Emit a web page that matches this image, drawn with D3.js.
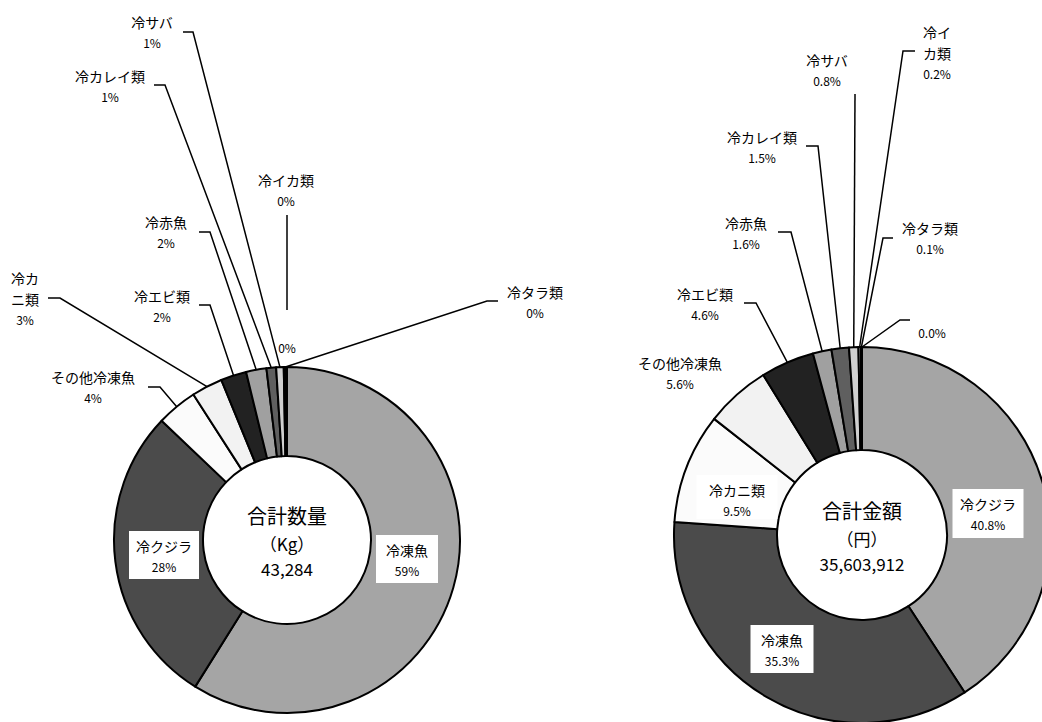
<!DOCTYPE html>
<html>
<head>
<meta charset="utf-8">
<script src="https://cdn.jsdelivr.net/npm/d3@7"></script>
<style>
  body { margin: 0; background: #fff; }
  text { font-family: "Noto Sans CJK JP", "Noto Sans", sans-serif; fill: #000; }
  .lbl-name { font-size: 14px; }
  .lbl-pct { font-size: 12px; }
  .ctr-title { font-size: 20px; }
  .ctr-sub { font-size: 17px; }
</style>
</head>
<body>
<svg id="chart"></svg>
<script>
'use strict';

// ---- data ----
const categories_qty = ['冷凍魚', '冷クジラ', 'その他冷凍魚', '冷カニ類', '冷エビ類', '冷赤魚', '冷カレイ類', '冷サバ', '冷イカ類', '冷タラ類', ''];
const share_qty = [58.9, 28.2, 3.8, 2.9, 2.4, 1.9, 0.9, 0.7, 0.1, 0.1, 0.1];
const total_qty = 43284;

const categories_amt = ['冷クジラ', '冷凍魚', '冷カニ類', 'その他冷凍魚', '冷エビ類', '冷赤魚', '冷カレイ類', '冷サバ', '冷イカ類', '冷タラ類', ''];
const share_amt = [40.8, 35.3, 9.5, 5.6, 4.6, 1.6, 1.5, 0.8, 0.2, 0.1, 0.0];
const total_amt = 35603912;

// slot colours (by slice order)
const palette = ['#a5a5a5', '#4b4b4b', '#fbfbfb', '#f2f2f2', '#222222', '#a0a0a0',
                 '#5f5f5f', '#d0d0d0', '#ffffff', '#7f7f7f', '#000000'];

// label placement (hand placed, like the original sheet)
const layout_qty = [
    {type: 'box', x: 407, y: 550, bw: 62, bh: 48},
    {type: 'box', x: 164, y: 546, bw: 70, bh: 48},
    {type: 'elbow', x: 93, y: 377, ex: [148, 160], ey: 387},
    {type: 'elbow', x: 25, y: 278, wrap: 2, ex: [48, 60], ey: 298},
    {type: 'elbow', x: 162, y: 296, ex: [199, 210], ey: 305},
    {type: 'elbow', x: 166, y: 222, ex: [199, 210], ey: 232},
    {type: 'elbow', x: 110, y: 76, ex: [154, 165], ey: 85},
    {type: 'elbow', x: 152, y: 22, ex: [183, 193], ey: 32},
    {type: 'stub', x: 286, y: 180, sx: 287, sy: [215, 310]},
    {type: 'elbow', x: 535, y: 292, ex: [498, 487], ey: 301},
    {type: 'none', x: 287, y: 347}
];
const layout_amt = [
    {type: 'box', x: 988, y: 504, bw: 71, bh: 49},
    {type: 'box', x: 782, y: 640, bw: 63, bh: 48},
    {type: 'box', x: 737, y: 490, bw: 81, bh: 44},
    {type: 'none', x: 680, y: 363},
    {type: 'elbow', x: 705, y: 294, ex: [744, 756], ey: 303},
    {type: 'elbow', x: 746, y: 223, ex: [778, 791], ey: 232},
    {type: 'elbow', x: 762, y: 137, ex: [806, 818], ey: 146},
    {type: 'line', x: 827, y: 60, lx: 855, ly: 94},
    {type: 'elbow', x: 937, y: 32, wrap: 2, ex: [915, 903], ey: 51},
    {type: 'elbow', x: 930, y: 228, ex: [893, 883], ey: 238},
    {type: 'elbow', x: 932, y: 332, ex: [910, 900], ey: 320}
];

const svg = d3.select('#chart').attr('width', 1042).attr('height', 722);

function drawDonut(cfg) {
    const pie = d3.pie().sort(null).value(d => d.value);
    const slices = pie(cfg.names.map((n, i) => ({name: n, value: cfg.values[i]})));
    const arc = d3.arc().innerRadius(cfg.r0).outerRadius(cfg.r1);
    const edge = d3.arc().innerRadius(cfg.r1).outerRadius(cfg.r1);
    const fmt = d3.format(cfg.pct_fmt);

    const g = svg.append('g')
        .attr('transform', 'translate(' + cfg.cx + ',' + cfg.cy + ')');

    g.selectAll('.slice')
        .data(slices)
        .enter()
        .append('path')
        .attr('class', 'slice')
        .attr('d', arc)
        .attr('fill', d => palette[d.index])
        .attr('stroke', '#000')
        .attr('stroke-width', 2)
        .attr('stroke-linejoin', 'round');

    // leader lines
    const lines = svg.append('g')
        .attr('fill', 'none')
        .attr('stroke', '#000')
        .attr('stroke-width', 1.5);

    slices.forEach(function(d, i) {
        const L = cfg.layout[i];
        const p = edge.centroid(d);
        const px = cfg.cx + p[0], py = cfg.cy + p[1];
        if (L.type === 'elbow') {
            lines.append('polyline')
                .attr('points', [[L.ex[0], L.ey], [L.ex[1], L.ey], [px, py]].join(' '));
        } else if (L.type === 'line') {
            lines.append('line')
                .attr('x1', L.lx).attr('y1', L.ly).attr('x2', px).attr('y2', py);
        } else if (L.type === 'stub') {
            lines.append('line')
                .attr('x1', L.sx).attr('y1', L.sy[0]).attr('x2', L.sx).attr('y2', L.sy[1]);
        }
    });

    // labels
    slices.forEach(function(d, i) {
        const L = cfg.layout[i];
        const name = d.data.name;
        const pct = fmt(d.data.value) + '%';
        if (L.type === 'box') {
            svg.append('rect')
                .attr('x', L.x - L.bw / 2).attr('y', L.y - 15)
                .attr('width', L.bw).attr('height', L.bh)
                .attr('fill', '#fff');
        }
        let rows = [];
        if (name) {
            if (L.wrap) {
                rows.push(name.slice(0, L.wrap), name.slice(L.wrap));
            } else {
                rows.push(name);
            }
        }
        let y = L.y;
        rows.forEach(function(r) {
            svg.append('text').attr('class', 'lbl-name')
                .attr('x', L.x).attr('y', y)
                .attr('text-anchor', 'middle').attr('dominant-baseline', 'central')
                .text(r);
            y += 20.5;
        });
        svg.append('text').attr('class', 'lbl-pct')
            .attr('x', L.x).attr('y', y)
            .attr('text-anchor', 'middle').attr('dominant-baseline', 'central')
            .text(pct);
    });

    // centre text
    const c = [
        [cfg.title, 'ctr-title', -25],
        [cfg.unit, 'ctr-sub', 3],
        [d3.format(',')(cfg.total), 'ctr-sub', 28]
    ];
    for (let k = 0; k < c.length; k++) {
        g.append('text').attr('class', c[k][1])
            .attr('x', 0).attr('y', c[k][2])
            .attr('text-anchor', 'middle').attr('dominant-baseline', 'central')
            .text(c[k][0]);
    }
}

drawDonut({
    cx: 287, cy: 540, r0: 84, r1: 173,
    names: categories_qty, values: share_qty, layout: layout_qty,
    pct_fmt: '.0f', title: '合計数量', unit: '（Kg）', total: total_qty
});

drawDonut({
    cx: 862, cy: 535, r0: 85, r1: 188,
    names: categories_amt, values: share_amt, layout: layout_amt,
    pct_fmt: '.1f', title: '合計金額', unit: '（円）', total: total_amt
});
</script>
</body>
</html>
